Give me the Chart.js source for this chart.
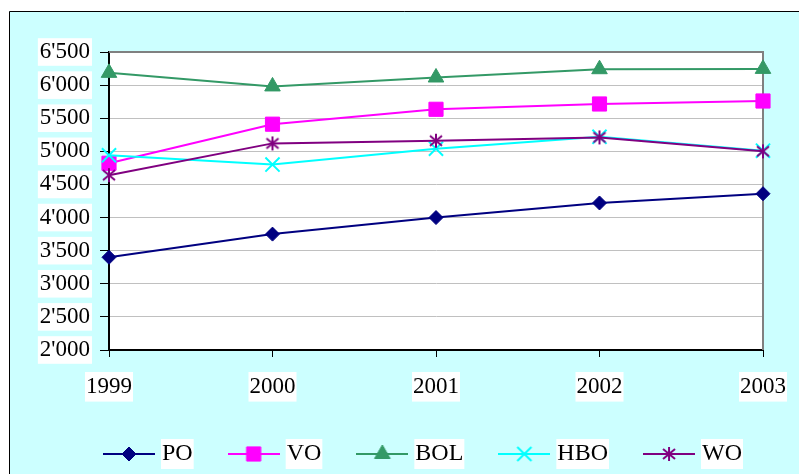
<!DOCTYPE html>
<html>
<head>
<meta charset="utf-8">
<script src="https://cdn.jsdelivr.net/npm/chart.js@4.4.1/dist/chart.umd.min.js"></script>
<style>
  html, body { margin: 0; padding: 0; background: #fff; }
  #wrap { width: 799px; height: 474px; position: relative; }
</style>
</head>
<body>
<div id="wrap"><canvas id="chart"></canvas></div>
<script>
// data
const years = ['1999', '2000', '2001', '2002', '2003'];
const poValues = [3400, 3750, 4000, 4220, 4360];
const voValues = [4820, 5410, 5635, 5715, 5760];
const bolValues = [6185, 5980, 6115, 6240, 6245];
const hboValues = [4940, 4800, 5040, 5220, 5010];
const woValues = [4640, 5120, 5160, 5210, 5000];
const yMin = 2000, yMax = 6500, yStep = 500;

const FONT = "'Liberation Serif', 'Times New Roman', serif";
const LEG_BOX = 42;   // legend box width (icon is 52 wide, centred on it)
const LEG_FONT = 24;

// 6500 -> 6'500
function swissNum(v) {
  const th = Math.floor(v / 1000);
  const rest = String(v % 1000).padStart(3, '0');
  return th + "'" + rest;
}

// Excel "star" marker: vertical bar + X
function asterisk(color) {
  const c = document.createElement('canvas');
  c.width = 16; c.height = 16;
  const g = c.getContext('2d');
  g.strokeStyle = color;
  g.lineWidth = 2;
  g.beginPath();
  g.moveTo(8, 1); g.lineTo(8, 15);
  g.moveTo(2, 3); g.lineTo(14, 13);
  g.moveTo(14, 3); g.lineTo(2, 13);
  g.stroke();
  return c;
}

// legend icon: short line with the marker on it
function legendIcon(ds) {
  const c = document.createElement('canvas');
  c.width = 52; c.height = 22;
  const g = c.getContext('2d');
  g.strokeStyle = ds.borderColor;
  g.lineWidth = ds.borderWidth;
  g.beginPath(); g.moveTo(0, 11); g.lineTo(52, 11); g.stroke();
  g.fillStyle = ds.pointBackgroundColor;
  g.strokeStyle = ds.pointBorderColor;
  g.lineWidth = ds.pointBorderWidth;
  Chart.helpers.drawPoint(g, {
    pointStyle: ds.pointStyle, radius: ds.pointRadius, rotation: 0, borderWidth: ds.pointBorderWidth
  }, 26, 11);
  return c;
}

function series(label, data, color, style, radius, order) {
  return {
    label, data, order,
    borderColor: color, borderWidth: 2,
    pointStyle: style, pointRadius: radius, pointHoverRadius: radius,
    pointBackgroundColor: color, pointBorderColor: color, pointBorderWidth: style === 'crossRot' ? 2 : 1,
    tension: 0, clip: false
  };
}

// Excel-like panel + plot area
const framePlugin = {
  id: 'frame',
  afterLayout(chart) {
    // legend starts further right, like the Excel one, and must stay on one row
    if (chart.legend) {
      chart.legend.left = 68;
      chart.legend.right = chart.width + 60;
    }
  },
  beforeDraw(chart) {
    const {ctx, chartArea: a} = chart;
    ctx.save();
    ctx.fillStyle = '#ffffff';
    ctx.fillRect(0, 0, chart.width, chart.height);
    ctx.fillStyle = '#CCFFFF';
    ctx.fillRect(9, 11, chart.width - 9, chart.height - 11);
    ctx.strokeStyle = '#000';
    ctx.lineWidth = 1;
    ctx.beginPath();
    ctx.moveTo(9.5, chart.height); ctx.lineTo(9.5, 11.5); ctx.lineTo(chart.width, 11.5);
    ctx.stroke();
    ctx.fillStyle = '#ffffff';
    ctx.fillRect(a.left, a.top, a.right - a.left, a.bottom - a.top);
    // white boxes behind legend texts
    const lg = chart.legend;
    if (lg && lg.legendHitBoxes) {
      const off = LEG_BOX + LEG_FONT / 2;
      lg.legendHitBoxes.forEach(hb => {
        ctx.fillRect(hb.left + off - 1, hb.top - 3, hb.width - off + 2, hb.height + 6);
      });
    }
    ctx.restore();
  },
  beforeDatasetsDraw(chart) {
    const {ctx, chartArea: a} = chart;
    ctx.save();
    ctx.strokeStyle = '#808080';
    ctx.lineWidth = 2;
    ctx.beginPath();
    ctx.moveTo(a.left, a.top); ctx.lineTo(a.right, a.top); ctx.lineTo(a.right, a.bottom);
    ctx.stroke();
    ctx.restore();
  }
};

const ctx = document.getElementById('chart').getContext('2d');
new Chart(ctx, {
  type: 'line',
  data: {
    labels: years,
    datasets: [
      series('PO', poValues, '#000080', 'rectRot', 7, 5),
      series('VO', voValues, '#FF00FF', 'rect', 10, 4),
      series('BOL', bolValues, '#339966', 'triangle', 9, 3),
      series('HBO', hboValues, '#00FFFF', 'crossRot', 10, 2),
      series('WO', woValues, '#800080', asterisk('#800080'), 8, 1)
    ]
  },
  options: {
    responsive: true,
    maintainAspectRatio: false,
    animation: false,
    layout: { autoPadding: false, padding: { top: 52, right: 36, left: 0, bottom: -2 } },
    plugins: {
      tooltip: { enabled: false },
      legend: {
        position: 'bottom',
        align: 'start',
        labels: {
          usePointStyle: true,
          pointStyleWidth: LEG_BOX,
          padding: 40,
          color: '#000',
          font: { family: FONT, size: LEG_FONT },
          generateLabels: chart => chart.data.datasets.map((ds, i) => ({
            text: ds.label,
            pointStyle: legendIcon(ds),
            datasetIndex: i,
            hidden: !chart.isDatasetVisible(i),
            fontColor: '#000',
            lineWidth: 0,
            strokeStyle: 'rgba(0,0,0,0)',
            fillStyle: 'rgba(0,0,0,0)'
          }))
        }
      }
    },
    scales: {
      x: {
        type: 'category',
        offset: false,
        afterFit: s => { s.height = 52; s.paddingLeft = 0; s.paddingRight = 0; },
        grid: { drawOnChartArea: false, drawTicks: true, tickLength: 7, tickColor: '#000' },
        border: { color: '#000', width: 2 },
        ticks: {
          color: '#000', padding: 16, maxRotation: 0, autoSkip: false,
          font: { family: FONT, size: 23 },
          showLabelBackdrop: true, backdropColor: '#ffffff', backdropPadding: { x: 1, y: 1 }
        }
      },
      y: {
        min: yMin, max: yMax,
        afterFit: s => { s.width = 109; s.paddingTop = 0; s.paddingBottom = 0; },
        grid: { color: '#C0C0C0', lineWidth: 1, tickLength: 9, tickColor: '#000' },
        border: { color: '#000', width: 2 },
        ticks: {
          stepSize: yStep, color: '#000', padding: 10, autoSkip: false,
          font: { family: FONT, size: 23 },
          callback: v => swissNum(v),
          showLabelBackdrop: true, backdropColor: '#ffffff', backdropPadding: { x: 2, y: 0 }
        }
      }
    }
  },
  plugins: [framePlugin]
});
</script>
</body>
</html>
